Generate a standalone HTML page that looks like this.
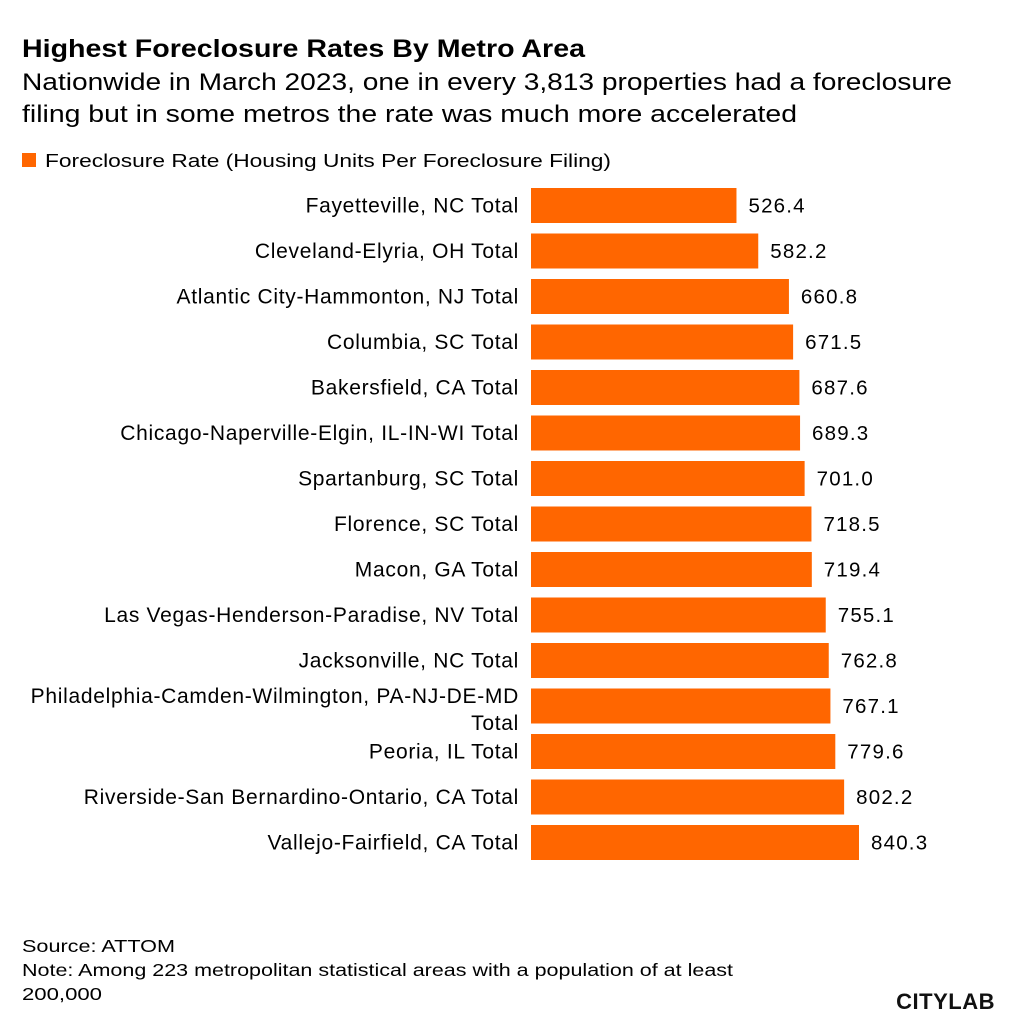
<!DOCTYPE html>
<html><head><meta charset="utf-8"><style>
body{margin:0;background:#fff;width:1016px;height:1024px;overflow:hidden;font-family:"Liberation Sans",sans-serif}
</style></head><body>
<svg width="1016" height="1024" font-family="Liberation Sans, sans-serif">
<text x="22" y="57" font-size="25" font-weight="bold" fill="#000" textLength="563" lengthAdjust="spacingAndGlyphs">Highest Foreclosure Rates By Metro Area</text>
<text x="22" y="90" font-size="24" fill="#000" textLength="930" lengthAdjust="spacingAndGlyphs">Nationwide in March 2023, one in every 3,813 properties had a foreclosure</text>
<text x="22" y="122" font-size="24" fill="#000" textLength="775" lengthAdjust="spacingAndGlyphs">filing but in some metros the rate was much more accelerated</text>
<rect x="22" y="153" width="14" height="14" fill="#ff6600"/>
<text x="45" y="167" font-size="18" fill="#000" textLength="566" lengthAdjust="spacingAndGlyphs">Foreclosure Rate (Housing Units Per Foreclosure Filing)</text>
<g id="bars"></g>
<text x="22" y="952" font-size="17.5" fill="#000" textLength="153" lengthAdjust="spacingAndGlyphs">Source: ATTOM</text>
<text x="22" y="976" font-size="17.5" fill="#000" textLength="711" lengthAdjust="spacingAndGlyphs">Note: Among 223 metropolitan statistical areas with a population of at least</text>
<text x="22" y="1000" font-size="17.5" fill="#000" textLength="80" lengthAdjust="spacingAndGlyphs">200,000</text>
<text x="995" y="1009" font-size="22" font-weight="bold" text-anchor="end" fill="#111" letter-spacing="0.5">CITYLAB</text>
</svg>
<script>
const categories=["Fayetteville, NC Total","Cleveland-Elyria, OH Total","Atlantic City-Hammonton, NJ Total","Columbia, SC Total","Bakersfield, CA Total","Chicago-Naperville-Elgin, IL-IN-WI Total","Spartanburg, SC Total","Florence, SC Total","Macon, GA Total","Las Vegas-Henderson-Paradise, NV Total","Jacksonville, NC Total","Philadelphia-Camden-Wilmington, PA-NJ-DE-MD Total","Peoria, IL Total","Riverside-San Bernardino-Ontario, CA Total","Vallejo-Fairfield, CA Total"];
const values=[526.4,582.2,660.8,671.5,687.6,689.3,701.0,718.5,719.4,755.1,762.8,767.1,779.6,802.2,840.3];
const valueLabels=["526.4","582.2","660.8","671.5","687.6","689.3","701.0","718.5","719.4","755.1","762.8","767.1","779.6","802.2","840.3"];
const NS="http://www.w3.org/2000/svg";
const x0=531,xs=v=>x0+v*(328/840.3);
const yc=i=>205.5+i*45.5;
const g=document.getElementById('bars');
categories.forEach((c,i)=>{
  const r=document.createElementNS(NS,'rect');
  r.setAttribute('x',x0);r.setAttribute('y',yc(i)-17.5);
  r.setAttribute('width',xs(values[i])-x0);r.setAttribute('height',35);
  r.setAttribute('fill','#ff6600');
  
  
  g.appendChild(r);
  const v=document.createElementNS(NS,'text');
  v.setAttribute('x',xs(values[i])+12);v.setAttribute('y',yc(i)+7);
  v.setAttribute('font-size','20.5');v.setAttribute('fill','#000');
  v.setAttribute('letter-spacing','1.2');
  v.textContent=valueLabels[i];
  
  
  g.appendChild(v);
  const t=document.createElementNS(NS,'text');
  t.setAttribute('text-anchor','end');t.setAttribute('font-size','21');t.setAttribute('fill','#000');
  t.setAttribute('letter-spacing','0.7');
  
  
  const ww=c.length>45?[c.replace(/ Total$/,''),'Total']:[c];
  if(ww.length===1){t.setAttribute('x',519);t.setAttribute('y',yc(i)+7);t.textContent=c;}
  else{ww.forEach((w,k)=>{const s=document.createElementNS(NS,'tspan');s.setAttribute('x',519);s.setAttribute('y',yc(i)-3+k*27);s.textContent=w;t.appendChild(s);});}
  g.appendChild(t);
});
</script>
</body></html>
